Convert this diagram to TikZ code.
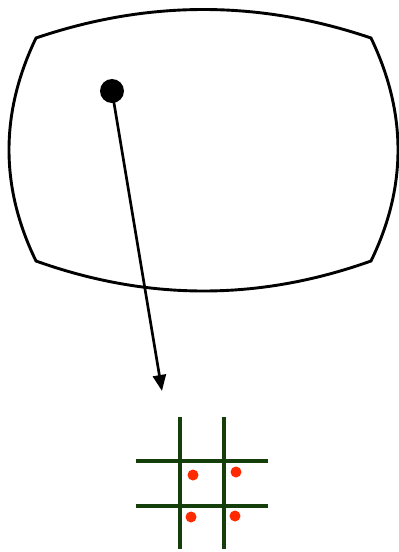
\documentclass[tikz,border=0pt]{standalone}
\usetikzlibrary{arrows.meta,calc,positioning}
\definecolor{gdgreen}{HTML}{143F0A}
\definecolor{gdred}{HTML}{FF2A00}
\tikzset{
  gd frame/.style={draw=black, line width=2.9pt, line join=miter},
  gd pin/.style={circle, fill=black, inner sep=0pt, minimum size=24pt},
  gd arrow/.style={-{Triangle[length=16pt,width=13pt]}, line width=2.7pt, draw=black},
  gd line/.style={draw=gdgreen, line width=3.5pt},
  gd sample/.style={circle, fill=gdred, inner sep=0pt, minimum size=11pt}
}
\begin{document}
\begin{tikzpicture}[x=1pt, y=-1pt]
  \useasboundingbox (0,0) rectangle (399,552);
  % distorted image frame
  \draw[gd frame] (36,38) .. controls (148,0) and (259,0) .. (371,38)
    .. controls (407,113) and (407,187) .. (371,261)
    .. controls (259,301) and (148,301) .. (36,261)
    .. controls (0,187) and (0,113) .. cycle;
  \node[gd pin] (pin) at (112,91) {};
  \coordinate (tip) at (162,391);
  \draw[gd arrow] (pin.center) -- (tip);
  % pixel grid
  \foreach \gx in {180,224}
    \draw[gd line] (\gx,417) -- (\gx,549);
  \foreach \gy in {461,506}
    \draw[gd line] (136,\gy) -- (268,\gy);
  \node[gd sample] (s1) at (193,475) {};
  \node[gd sample] (s2) at (236,472) {};
  \node[gd sample] (s3) at (191,517) {};
  \node[gd sample] (s4) at (235,516) {};
\end{tikzpicture}
\end{document}
